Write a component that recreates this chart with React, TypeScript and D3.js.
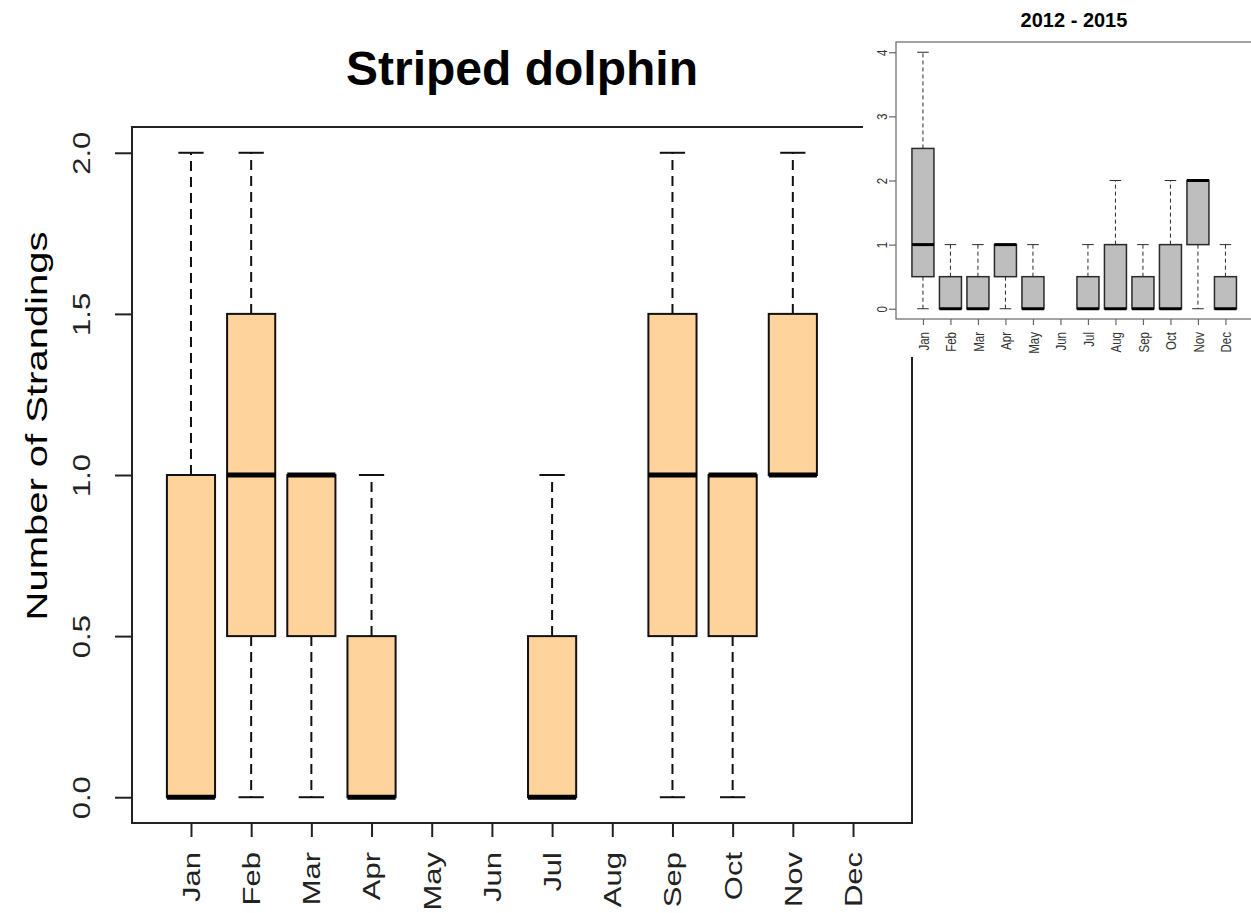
import React, { useEffect, useRef } from 'react';
import * as d3 from 'd3';

const months = ['Jan', 'Feb', 'Mar', 'Apr', 'May', 'Jun', 'Jul', 'Aug', 'Sep', 'Oct', 'Nov', 'Dec'];

// Main panel: Striped dolphin, boxplot stats per month (null = no box drawn)
const mainMin = [0, 0, 0, 0, null, null, 0, null, 0, 0, 1, null];
const mainQ1 = [0, 0.5, 0.5, 0, null, null, 0, null, 0.5, 0.5, 1, null];
const mainMed = [0, 1, 1, 0, null, null, 0, null, 1, 1, 1, null];
const mainQ3 = [1, 1.5, 1, 0.5, null, null, 0.5, null, 1.5, 1, 1.5, null];
const mainMax = [2, 2, 1, 1, null, null, 1, null, 2, 1, 2, null];
const mainYTicks = [0, 0.5, 1, 1.5, 2];

// Inset panel: 2012 - 2015
const insetMin = [0, 0, 0, 0, 0, null, 0, 0, 0, 0, 0, 0];
const insetQ1 = [0.5, 0, 0, 0.5, 0, null, 0, 0, 0, 0, 1, 0];
const insetMed = [1, 0, 0, 1, 0, null, 0, 0, 0, 0, 2, 0];
const insetQ3 = [2.5, 0.5, 0.5, 1, 0.5, null, 0.5, 1, 0.5, 1, 2, 0.5];
const insetMax = [4, 1, 1, 1, 1, null, 1, 2, 1, 2, 2, 1];
const insetYTicks = [0, 1, 2, 3, 4];

const FONT = '"Liberation Sans", Arial, sans-serif';

const drawPanel = (g, cfg) => {
  const { left, right, top, bottom, yMax, yTicks, yFormat, stats, fill, s } = cfg;

  // R style: xlim 0.5..12.5 and ylim padded by 4%
  const x = d3.scaleLinear().domain([0.02, 12.98]).range([left, right]);
  const pad = yMax * 0.04;
  const y = d3.scaleLinear().domain([-pad, yMax + pad]).range([bottom, top]);
  const step = x(2) - x(1);
  const boxW = step * 0.8;
  const stapleW = step * 0.42;

  const rows = months.map((m, i) => ({
    i: i + 1,
    min: stats.min[i], q1: stats.q1[i], med: stats.med[i], q3: stats.q3[i], max: stats.max[i]
  })).filter(d => d.med !== null);

  const box = g.selectAll('.box').data(rows).enter().append('g');

  // whiskers
  box.append('line')
    .attr('x1', d => x(d.i)).attr('x2', d => x(d.i))
    .attr('y1', d => y(d.q3)).attr('y2', d => y(d.max))
    .attr('stroke', s.line).attr('stroke-width', s.whiskerW).attr('stroke-dasharray', s.dash);
  box.append('line')
    .attr('x1', d => x(d.i)).attr('x2', d => x(d.i))
    .attr('y1', d => y(d.q1)).attr('y2', d => y(d.min))
    .attr('stroke', s.line).attr('stroke-width', s.whiskerW).attr('stroke-dasharray', s.dash);

  // staples
  ['min', 'max'].forEach(k => {
    box.append('line')
      .attr('x1', d => x(d.i) - stapleW / 2).attr('x2', d => x(d.i) + stapleW / 2)
      .attr('y1', d => y(d[k])).attr('y2', d => y(d[k]))
      .attr('stroke', s.line).attr('stroke-width', s.whiskerW);
  });

  // boxes
  box.append('rect')
    .attr('x', d => x(d.i) - boxW / 2)
    .attr('y', d => y(d.q3))
    .attr('width', boxW)
    .attr('height', d => y(d.q1) - y(d.q3))
    .attr('fill', fill)
    .attr('stroke', s.line)
    .attr('stroke-width', s.boxW);

  // medians
  box.append('line')
    .attr('x1', d => x(d.i) - boxW / 2).attr('x2', d => x(d.i) + boxW / 2)
    .attr('y1', d => y(d.med)).attr('y2', d => y(d.med))
    .attr('stroke', '#000').attr('stroke-width', s.medW);

  // frame
  g.append('rect')
    .attr('x', left).attr('y', top)
    .attr('width', right - left).attr('height', bottom - top)
    .attr('fill', 'none').attr('stroke', s.axis).attr('stroke-width', s.frameW);

  // y axis
  const yAxis = g.append('g')
    .attr('transform', `translate(${left},0)`)
    .call(d3.axisLeft(y).tickValues(yTicks).tickFormat(yFormat).tickSize(s.yTick).tickSizeOuter(0));
  yAxis.select('.domain').remove();
  yAxis.selectAll('line').attr('stroke', s.axis).attr('stroke-width', s.frameW);
  yAxis.selectAll('text')
    .attr('x', null).attr('dy', null).attr('y', 0)
    .attr('transform', `translate(${-s.yLab},0) rotate(-90) scale(1,${s.squash})`)
    .attr('text-anchor', 'middle')
    .attr('font-size', s.tickFont)
    .attr('font-family', FONT)
    .attr('fill', s.text);

  // x axis
  const xAxis = g.append('g')
    .attr('transform', `translate(0,${bottom})`)
    .call(d3.axisBottom(x).tickValues(d3.range(1, 13)).tickFormat(d => months[d - 1]).tickSize(s.xTick).tickSizeOuter(0));
  xAxis.select('.domain').remove();
  xAxis.selectAll('line').attr('stroke', s.axis).attr('stroke-width', s.frameW);
  xAxis.selectAll('text')
    .attr('dy', null)
    .attr('y', s.xBase)
    .attr('transform', `translate(0,${s.xLab}) rotate(-90) scale(1,${s.squash})`)
    .attr('text-anchor', 'end')
    .attr('font-size', s.tickFont)
    .attr('font-family', FONT)
    .attr('fill', s.text);
};

const App = () => {
  const svgRef = useRef(null);

  useEffect(() => {
    const svg = d3.select(svgRef.current);
    svg.selectAll('*').remove();

    svg.append('rect').attr('width', 1251).attr('height', 913).attr('fill', '#fff');

    // main chart
    const main = svg.append('g');
    drawPanel(main, {
      left: 132, right: 912, top: 127, bottom: 823,
      yMax: 2, yTicks: mainYTicks, yFormat: d3.format('.1f'),
      stats: { min: mainMin, q1: mainQ1, med: mainMed, q3: mainQ3, max: mainMax },
      fill: '#FFD39B',
      s: {
        line: '#111', axis: '#222', text: '#222', whiskerW: 2, boxW: 2, medW: 5, frameW: 2,
        dash: '10,6', yTick: 17, xTick: 14, yLab: 42, xLab: 29, xBase: 11,
        tickFont: 31, squash: 0.76
      }
    });

    main.append('text')
      .attr('x', 522).attr('y', 85)
      .attr('text-anchor', 'middle')
      .attr('font-family', FONT).attr('font-weight', 'bold').attr('font-size', 48)
      .attr('fill', '#000')
      .text('Striped dolphin');

    main.append('text')
      .attr('transform', 'translate(47,426) rotate(-90) scale(1,0.76)')
      .attr('text-anchor', 'middle')
      .attr('font-family', FONT).attr('font-size', 40)
      .attr('fill', '#000')
      .text('Number of Strandings');

    // inset chart
    const inset = svg.append('g');
    inset.append('rect')
      .attr('x', 863).attr('y', 0).attr('width', 400).attr('height', 357)
      .attr('fill', '#fff');

    drawPanel(inset, {
      left: 896, right: 1252.4, top: 42, bottom: 319,
      yMax: 4, yTicks: insetYTicks, yFormat: d3.format('d'),
      stats: { min: insetMin, q1: insetQ1, med: insetMed, q3: insetQ3, max: insetMax },
      fill: '#BEBEBE',
      s: {
        line: '#2a2a2a', axis: '#666', text: '#333', whiskerW: 1, boxW: 1.5, medW: 3, frameW: 1.2,
        dash: '4,3', yTick: 7, xTick: 6, yLab: 9, xLab: 13, xBase: 4.5,
        tickFont: 11.5, squash: 1.2
      }
    });

    inset.append('text')
      .attr('x', 1074).attr('y', 27)
      .attr('text-anchor', 'middle')
      .attr('font-family', FONT).attr('font-weight', 'bold').attr('font-size', 20)
      .attr('fill', '#000')
      .text('2012 - 2015');
  }, []);

  return (
    <div style={{ position: 'absolute', left: 0, top: 0, width: 1251, height: 913, background: '#fff' }}>
      <svg ref={svgRef} width={1251} height={913} />
    </div>
  );
};

export default App;
